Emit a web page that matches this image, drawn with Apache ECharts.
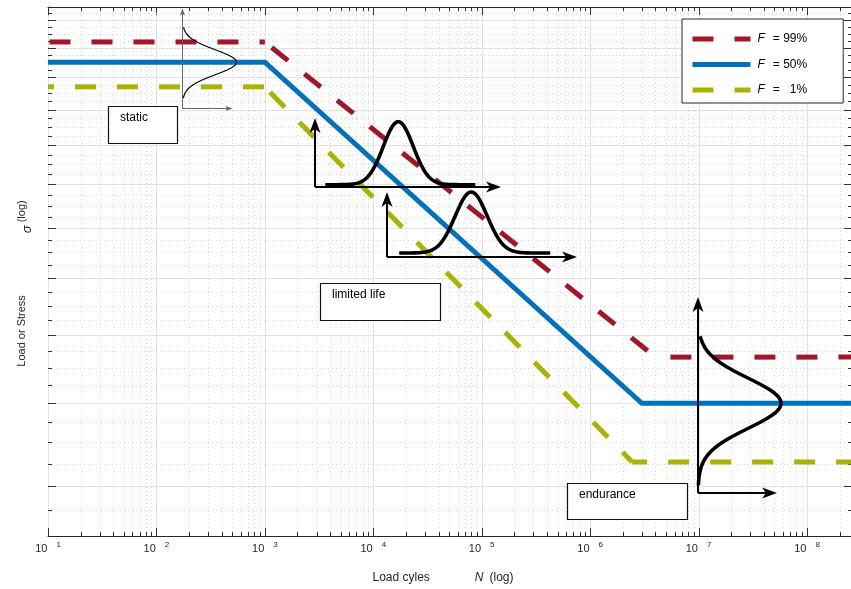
<!DOCTYPE html>
<html>
<head>
<meta charset="utf-8">
<script src="https://cdn.jsdelivr.net/npm/echarts@6/dist/echarts.min.js"></script>
<style>
  html, body { margin: 0; padding: 0; background: #fff; }
  #chart { width: 851px; height: 589px; }
</style>
</head>
<body>
<div id="chart"></div>
<script>
// S-N (Woehler) curves: break points as load cycles N and stress sigma
const cycles99 = [10, 1e3, 4.0e6, 2.6e8];
const stress99 = [13.2, 13.2, 5.66, 5.66];
const cycles50 = [10, 1e3, 3.0e6, 2.6e8];
const stress50 = [12.5, 12.5, 5.0, 5.0];
const cycles01 = [10, 1e3, 2.44e6, 2.6e8];
const stress01 = [11.7, 11.7, 4.27, 4.27];
const seriesNames = ['F = 99%', 'F = 50%', 'F = 1%'];
const legendLabels = ['{f|F}= 99%', '{f|F}= 50%', '{f|F}=   1%'];

// axis ranges and tick values
const nRange = [10, 2.6e8];
const sigmaRange = [3.5, 14.5];
const xExponents = [1, 2, 3, 4, 5, 6, 7, 8];
const sigmaMajor = [4, 5, 6, 7, 8, 9, 10, 11, 12, 13, 14];
const sigmaMinorSteps = [0.25, 0.5, 0.75];
const boxLabels = ['static', 'limited life', 'endurance'];

const LOG = Math.log10;
const FONT = '"Liberation Sans", Arial, Helvetica, sans-serif';
const AXIS_COLOR = '#262626';
const xMin = LOG(nRange[0]), xMax = LOG(nRange[1]);
const yMin = LOG(sigmaRange[0]), yMax = LOG(sigmaRange[1]);

// line styling; dashed curves get a dash phase per straight piece
const lineColors = ['#a3162a', '#0072bd', '#a9b300'];
const dashPhases = [[40.5, 33.2, 27], null, [15, 34.6, 6]];

// annotation layout: anchors in data units, sizes in pixels
const boxLayout = [
  { at: [35.8, 11.12], w: 69, h: 37 },
  { at: [3.23e3, 6.91], w: 120, h: 37 },
  { at: [6.14e5, 4.04], w: 120, h: 36 }
];
const distLayout = [
  { at: [173, 11.05], up: 100, right: 50, bell: 'v', centre: stress50[0], amp: 54, sigma: 12.5, span: [-35, 36], bold: false },
  { at: [2.87e3, 8.944], up: 69, right: 186, bell: 'h', centre: 1.7e4, lift: 2.3, amp: 63, sigma: 15, span: [-73, 77], bold: true },
  { at: [1.34e4, 7.415], up: 65, right: 190, bell: 'h', centre: 8.0e4, lift: 4, amp: 61, sigma: 16, span: [-72, 79], bold: true },
  { at: [9.9e6, 3.929], up: 196, right: 79, bell: 'v', centre: stress50[2], amp: 83, sigma: 25, span: [-67, 82], bold: true }
];

function curve(ns, ss) { return ns.map((n, i) => [LOG(n), LOG(ss[i])]); }

// grid/tick items: [x, y, kind] kind 0 x-major, 1 x-minor, 2 y-major, 3 y-minor
const gridItems = [];
xExponents.forEach(e => {
  const d = Math.pow(10, e);
  gridItems.push([e, yMin, 0]);
  for (let m = 2; m <= 9; m++) {
    if (d * m < nRange[1]) gridItems.push([LOG(d * m), yMin, 1]);
  }
});
sigmaMajor.forEach(s => {
  gridItems.push([xMin, LOG(s), 2]);
  sigmaMinorSteps.forEach(f => { if (s + f < sigmaRange[1]) gridItems.push([xMin, LOG(s + f), 3]); });
});
gridItems.push([xMin, LOG(sigmaRange[0] + 0.25), 3]);

const gridMajorStyle = { stroke: '#e1e1e1', lineWidth: 1 };
const gridMinorStyle = { stroke: '#d6d6d6', lineWidth: 1, lineDash: [1, 3] };
const tickStyle = { stroke: '#333', lineWidth: 1 };

function renderGrid(params, api) {
  const cs = params.coordSys;
  const kind = api.value(2);
  const els = [];
  const bottom = cs.y + cs.height, right = cs.x + cs.width;
  if (kind < 2) {
    const x = Math.round(api.coord([api.value(0), yMin])[0]) + 0.5;
    const L = kind === 0 ? 8 : 4;
    els.push({ type: 'line', shape: { x1: x, y1: cs.y, x2: x, y2: bottom }, style: kind === 0 ? gridMajorStyle : gridMinorStyle });
    els.push({ type: 'line', shape: { x1: x, y1: bottom, x2: x, y2: bottom - L }, style: tickStyle });
    els.push({ type: 'line', shape: { x1: x, y1: cs.y, x2: x, y2: cs.y + L }, style: tickStyle });
  } else {
    const y = Math.round(api.coord([xMin, api.value(1)])[1]) + 0.5;
    const L = kind === 2 ? 8 : 4;
    els.push({ type: 'line', shape: { x1: cs.x, y1: y, x2: right, y2: y }, style: kind === 2 ? gridMajorStyle : gridMinorStyle });
    els.push({ type: 'line', shape: { x1: cs.x, y1: y, x2: cs.x + L, y2: y }, style: tickStyle });
    els.push({ type: 'line', shape: { x1: right, y1: y, x2: right - L, y2: y }, style: tickStyle });
  }
  return { type: 'group', children: els };
}

function arrow(ox, oy, tx, ty, bold) {
  const L = bold ? 15 : 7, W = bold ? 5.5 : 2.5, notch = bold ? 4 : 1.5;
  const color = bold ? '#000' : '#666';
  const dx = tx - ox, dy = ty - oy, len = Math.hypot(dx, dy);
  const ux = dx / len, uy = dy / len, nx = -uy, ny = ux;
  const bx = tx - ux * L, by = ty - uy * L;
  const mx = tx - ux * (L - notch), my = ty - uy * (L - notch);
  return [
    { type: 'line', shape: { x1: ox, y1: oy, x2: mx, y2: my }, style: { stroke: color, lineWidth: bold ? 2 : 1 } },
    { type: 'polygon', shape: { points: [[tx, ty], [bx + nx * W, by + ny * W], [mx, my], [bx - nx * W, by - ny * W]] }, style: { fill: color } }
  ];
}

function renderDist(params, api) {
  const d = distLayout[params.dataIndex];
  const o = api.coord([api.value(0), api.value(1)]);
  const ox = Math.round(o[0]) + (d.bold ? 0 : 0.5), oy = Math.round(o[1]) + (d.bold ? 0 : 0.5);
  const els = [];
  els.push(...arrow(ox, oy, ox, oy - d.up, d.bold));
  els.push(...arrow(ox, oy, ox + d.right, oy, d.bold));
  const pts = [];
  const g = t => d.amp * Math.exp(-t * t / (2 * d.sigma * d.sigma));
  if (d.bell === 'v') {
    const cy = api.coord([api.value(0), LOG(d.centre)])[1];
    for (let t = d.span[0]; t <= d.span[1]; t += 1) pts.push([ox + g(t), cy + t]);
  } else {
    const cx = api.coord([LOG(d.centre), api.value(1)])[0];
    const by = oy - d.lift;
    for (let t = d.span[0]; t <= d.span[1]; t += 1) pts.push([cx + t, by - g(t)]);
  }
  els.push({ type: 'polyline', shape: { points: pts }, style: { stroke: '#000', lineWidth: d.bold ? 3.6 : 1.2, fill: null, lineJoin: 'round' } });
  return { type: 'group', children: els };
}

function renderBox(params, api) {
  const b = boxLayout[params.dataIndex];
  const p = api.coord([api.value(0), api.value(1)]);
  const x = Math.round(p[0]) + 0.5, y = Math.round(p[1]) + 0.5;
  return {
    type: 'group',
    children: [
      { type: 'rect', shape: { x: x, y: y, width: b.w, height: b.h }, style: { fill: '#fff', stroke: '#111', lineWidth: 1.2 } },
      { type: 'text', x: x + 11.5, y: y + 11, style: { text: boxLabels[params.dataIndex], fill: '#000', font: '12px ' + FONT, align: 'left', verticalAlign: 'middle' } }
    ]
  };
}

const curves = [curve(cycles99, stress99), curve(cycles50, stress50), curve(cycles01, stress01)];

// one series per curve; dashed curves are split into their straight pieces
const curveSeries = [];
seriesNames.forEach((name, i) => {
  const pts = curves[i];
  const phases = dashPhases[i];
  const pieces = phases ? pts.slice(0, -1).map((p, k) => [p, pts[k + 1]]) : [pts];
  pieces.forEach((piece, k) => {
    curveSeries.push({
      type: 'line', name: name, data: piece, z: 3,
      symbol: 'none', showSymbol: false, silent: true,
      color: lineColors[i],
      itemStyle: { color: lineColors[i] },
      lineStyle: {
        color: lineColors[i], width: 5, join: 'miter',
        type: phases ? [21, 21] : 'solid', dashOffset: phases ? phases[k] : 0
      }
    });
  });
});

const chart = echarts.init(document.getElementById('chart'), null, { renderer: 'canvas' });
chart.setOption({
  animation: false,
  backgroundColor: '#fff',
  textStyle: { fontFamily: FONT },
  grid: { left: 48, top: 7, right: -1, bottom: 53, containLabel: false, outerBoundsMode: 'none' },
  legend: {
    data: seriesNames,
    orient: 'vertical',
    left: 682, top: 19,
    padding: [14, 36, 7, 8],
    itemGap: 13.5, itemWidth: 58, itemHeight: 14,
    backgroundColor: '#fff', borderColor: AXIS_COLOR, borderWidth: 1, borderRadius: 0,
    selectedMode: false,
    formatter: name => legendLabels[seriesNames.indexOf(name)],
    itemStyle: { opacity: 0 },
    lineStyle: { width: 5, dashOffset: 0 },
    textStyle: {
      fontFamily: FONT, fontSize: 12, color: '#000',
      rich: { f: { fontFamily: FONT, fontSize: 12, fontStyle: 'italic', color: '#000', padding: [0, 8, 0, 2] } }
    }
  },
  xAxis: [{
    type: 'value', min: xMin, max: xMax, interval: 1, position: 'bottom',
    axisLine: { show: true, onZero: false, lineStyle: { color: AXIS_COLOR, width: 1 } },
    axisTick: { show: false }, splitLine: { show: false },
    axisLabel: {
      margin: 5, color: AXIS_COLOR, showMaxLabel: false, hideOverlap: false,
      formatter: v => Math.abs(v - Math.round(v)) < 1e-9 ? '{b|10}{s|' + Math.round(v) + '}' : '',
      rich: {
        b: { fontFamily: FONT, fontSize: 11, lineHeight: 16, verticalAlign: 'middle', color: AXIS_COLOR },
        s: { fontFamily: FONT, fontSize: 8, lineHeight: 9, verticalAlign: 'top', padding: [0, 0, 0, 9], color: AXIS_COLOR }
      }
    },
    name: '{a|Load cyles}{g|}{n|N}{b|(log)}',
    nameLocation: 'middle', nameGap: 35,
    nameTextStyle: {
      color: AXIS_COLOR, fontFamily: FONT, fontSize: 12, padding: [0, 14, 0, 0],
      rich: {
        a: { fontFamily: FONT, fontSize: 12, lineHeight: 14, color: AXIS_COLOR },
        g: { width: 45 },
        n: { fontFamily: FONT, fontSize: 12, fontStyle: 'italic', lineHeight: 14, color: AXIS_COLOR },
        b: { fontFamily: FONT, fontSize: 12, lineHeight: 14, padding: [0, 0, 0, 6], color: AXIS_COLOR }
      }
    }
  }, {
    type: 'value', min: xMin, max: xMax, interval: 1, position: 'top',
    axisLine: { show: true, onZero: false, lineStyle: { color: AXIS_COLOR, width: 1 } },
    axisTick: { show: false }, axisLabel: { show: false }, splitLine: { show: false }
  }],
  yAxis: [{
    type: 'value', min: yMin, max: yMax, position: 'left',
    axisLine: { show: true, onZero: false, lineStyle: { color: AXIS_COLOR, width: 1 } },
    axisTick: { show: false }, axisLabel: { show: false }, splitLine: { show: false },
    name: '{a|Load or Stress}{g|}{s|σ}{p|(log)}',
    nameLocation: 'middle', nameGap: 14,
    nameTextStyle: {
      color: AXIS_COLOR, fontFamily: FONT, fontSize: 11, padding: [0, 24, 0, 0],
      rich: {
        a: { fontFamily: FONT, fontSize: 11, lineHeight: 24, verticalAlign: 'middle', color: AXIS_COLOR },
        g: { width: 62 },
        s: { fontFamily: FONT, fontSize: 13, fontStyle: 'italic', lineHeight: 14, verticalAlign: 'bottom', color: AXIS_COLOR },
        p: { fontFamily: FONT, fontSize: 11, lineHeight: 14, verticalAlign: 'middle', padding: [0, 0, 0, 3], color: AXIS_COLOR }
      }
    }
  }, {
    type: 'value', min: yMin, max: yMax, position: 'right',
    axisLine: { show: true, onZero: false, lineStyle: { color: AXIS_COLOR, width: 1 } },
    axisTick: { show: false }, axisLabel: { show: false }, splitLine: { show: false }
  }],
  series: [
    { type: 'custom', name: 'grid', silent: true, z: 1, renderItem: renderGrid, data: gridItems },
    ...curveSeries,
    { type: 'custom', name: 'distributions', silent: true, z: 5, renderItem: renderDist,
      data: distLayout.map(d => [LOG(d.at[0]), LOG(d.at[1])]) },
    { type: 'custom', name: 'regions', silent: true, z: 6, renderItem: renderBox,
      data: boxLayout.map(b => [LOG(b.at[0]), LOG(b.at[1])]) }
  ]
});
</script>
</body>
</html>
